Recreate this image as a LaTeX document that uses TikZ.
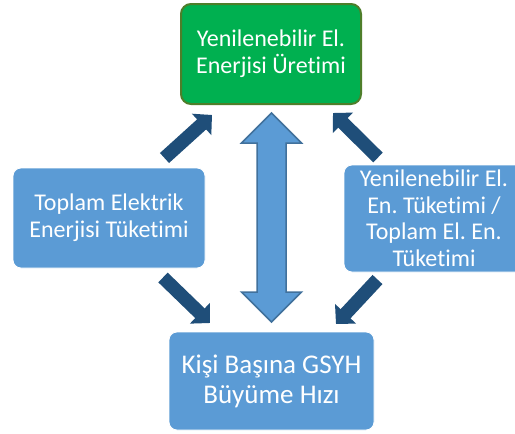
\documentclass[tikz,border=0pt]{standalone}
\usepackage{fontspec}
\setmainfont{Carlito}[Ligatures=NoCommon]
\usetikzlibrary{arrows.meta,calc}
\definecolor{boxblue}{HTML}{5B9BD5}
\definecolor{boxgreen}{HTML}{00B050}
\definecolor{greenedge}{HTML}{4E7E2A}
\definecolor{darkarrow}{HTML}{1F4E79}
\definecolor{blueedge}{HTML}{41719C}
\tikzset{
  bluebox/.style={rectangle, rounded corners=8pt, fill=boxblue, draw=white, line width=0.8pt,
    text=white, align=center, inner sep=0pt, font=\frenchspacing\fontsize{24}{26.5}\selectfont},
  greenbox/.style={rectangle, rounded corners=10pt, fill=boxgreen, draw=greenedge, line width=2pt,
    text=white, align=center, inner sep=0pt, font=\frenchspacing\fontsize{24}{27}\selectfont},
  blockarrow/.style={draw=darkarrow, line width=13.5pt, line cap=butt,
    -{Triangle[width=28pt,length=14pt]}},
}
\begin{document}
\begin{tikzpicture}[x=1pt,y=-1pt]
\clip (0,0) rectangle (515,434);
\fill[white] (0,0) rectangle (515,434);
% boxes
\node[greenbox, minimum width=180pt, minimum height=100pt] (top) at (271,54)
  {Yenilenebilir El.\\Enerjisi Üretimi};
\node[bluebox, minimum width=192pt, minimum height=100pt, font=\frenchspacing\fontsize{24}{27}\selectfont] (left) at (109,218)
  {Toplam Elektrik\\Enerjisi Tüketimi};
\node[bluebox, minimum width=180pt, minimum height=107pt] (right) at (434,218.5)
  {Yenilenebilir El.\\En. Tüketimi /\\Toplam El. En.\\Tüketimi};
\node[bluebox, minimum width=205pt, minimum height=98pt, font=\frenchspacing\fontsize{27}{30}\selectfont] (bottom) at (271.5,381)
  {Kişi Başına GSYH\\Büyüme Hızı};
% dark arrows
\coordinate (tlA) at (164.5,158);
\coordinate (tlB) at (212,115);
\coordinate (blA) at (163,277.5);
\coordinate (blB) at (210,323);
\coordinate (trA) at (378,157.5);
\coordinate (trB) at (333,113);
\coordinate (brA) at (377.5,279.5);
\coordinate (brB) at (336,324);
\draw[blockarrow] (tlA) -- (tlB);
\draw[blockarrow] (blA) -- (blB);
\draw[blockarrow] (trA) -- (trB);
\draw[blockarrow] (brA) -- (brB);
% double arrow
\coordinate (dT) at (271.5,113);
\coordinate (dB) at (271.5,322);
\draw[fill=boxblue, draw=blueedge, line width=1.5pt, line join=miter]
  (dT) -- ($(dT)+(30,30)$) -- ($(dT)+(14.5,30)$) -- ($(dB)+(14.5,-30)$) -- ($(dB)+(30,-30)$)
  -- (dB) -- ($(dB)+(-30,-30)$) -- ($(dB)+(-14.5,-30)$) -- ($(dT)+(-14.5,30)$) -- ($(dT)+(-30,30)$) -- cycle;
\end{tikzpicture}
\end{document}
